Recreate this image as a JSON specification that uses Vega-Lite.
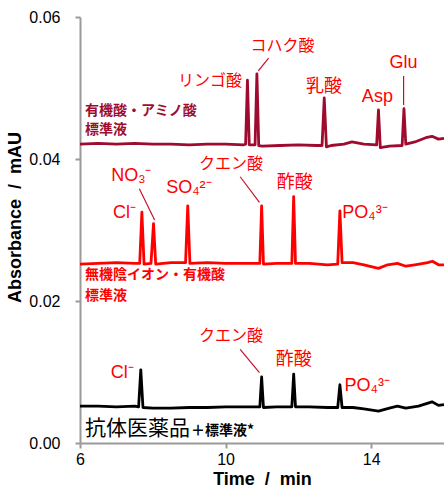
{
  "$schema": "https://vega.github.io/schema/vega-lite/v6.json",
  "width": 364,
  "height": 426,
  "autosize": {"type": "none"},
  "padding": {"left": 80, "top": 17, "right": 0, "bottom": 45},
  "background": "white",
  "config": {
    "view": {"stroke": null},
    "axis": {"grid": false, "labelFlush": false, "domainColor": "#9a9a9a", "tickColor": "#9a9a9a", "domainWidth": 2, "tickWidth": 2, "tickSize": 5, "labelFont": "Liberation Sans", "labelFontSize": 16, "labelColor": "#000", "titleFont": "Liberation Sans", "titleFontSize": 18, "titleFontWeight": "bold", "titleColor": "#000"}
  },
  "datasets": {
    "traces": [
      {"s": "std1", "t": 6.0, "a": 0.0421}, {"s": "std1", "t": 6.5, "a": 0.0422}, {"s": "std1", "t": 7.0, "a": 0.0421}, {"s": "std1", "t": 7.5, "a": 0.0422}, {"s": "std1", "t": 8.0, "a": 0.0421}, {"s": "std1", "t": 8.5, "a": 0.0421}, {"s": "std1", "t": 9.0, "a": 0.0420}, {"s": "std1", "t": 9.5, "a": 0.0421}, {"s": "std1", "t": 10.0, "a": 0.0421}, {"s": "std1", "t": 10.5, "a": 0.0420},
      {"s": "std1", "t": 10.55, "a": 0.0421}, {"s": "std1", "t": 10.6, "a": 0.0511}, {"s": "std1", "t": 10.65, "a": 0.0420}, {"s": "std1", "t": 10.75, "a": 0.0420},
      {"s": "std1", "t": 10.81, "a": 0.0420}, {"s": "std1", "t": 10.86, "a": 0.0520}, {"s": "std1", "t": 10.91, "a": 0.0419}, {"s": "std1", "t": 11.0, "a": 0.0418}, {"s": "std1", "t": 11.5, "a": 0.0419}, {"s": "std1", "t": 12.0, "a": 0.0420}, {"s": "std1", "t": 12.5, "a": 0.0419},
      {"s": "std1", "t": 12.65, "a": 0.0419}, {"s": "std1", "t": 12.71, "a": 0.0486}, {"s": "std1", "t": 12.77, "a": 0.0417}, {"s": "std1", "t": 12.9, "a": 0.0419}, {"s": "std1", "t": 13.25, "a": 0.0421}, {"s": "std1", "t": 13.47, "a": 0.0424}, {"s": "std1", "t": 13.8, "a": 0.0421},
      {"s": "std1", "t": 14.15, "a": 0.0420}, {"s": "std1", "t": 14.2, "a": 0.0469}, {"s": "std1", "t": 14.25, "a": 0.0416}, {"s": "std1", "t": 14.5, "a": 0.0418},
      {"s": "std1", "t": 14.85, "a": 0.0419}, {"s": "std1", "t": 14.9, "a": 0.0471}, {"s": "std1", "t": 14.95, "a": 0.0421}, {"s": "std1", "t": 15.2, "a": 0.0424}, {"s": "std1", "t": 15.5, "a": 0.0430}, {"s": "std1", "t": 15.67, "a": 0.0432}, {"s": "std1", "t": 15.85, "a": 0.0428}, {"s": "std1", "t": 16.0, "a": 0.0429},

      {"s": "std2", "t": 6.0, "a": 0.0252}, {"s": "std2", "t": 6.5, "a": 0.0253}, {"s": "std2", "t": 7.0, "a": 0.0254}, {"s": "std2", "t": 7.5, "a": 0.0253},
      {"s": "std2", "t": 7.64, "a": 0.0253}, {"s": "std2", "t": 7.70, "a": 0.0325}, {"s": "std2", "t": 7.76, "a": 0.0252},
      {"s": "std2", "t": 7.95, "a": 0.0253}, {"s": "std2", "t": 8.02, "a": 0.0309}, {"s": "std2", "t": 8.08, "a": 0.0252}, {"s": "std2", "t": 8.5, "a": 0.0254},
      {"s": "std2", "t": 8.9, "a": 0.0254}, {"s": "std2", "t": 8.96, "a": 0.0334}, {"s": "std2", "t": 9.02, "a": 0.0253}, {"s": "std2", "t": 9.5, "a": 0.0254}, {"s": "std2", "t": 10.0, "a": 0.0253}, {"s": "std2", "t": 10.5, "a": 0.0253},
      {"s": "std2", "t": 10.94, "a": 0.0253}, {"s": "std2", "t": 10.99, "a": 0.0334}, {"s": "std2", "t": 11.04, "a": 0.0252}, {"s": "std2", "t": 11.4, "a": 0.0253},
      {"s": "std2", "t": 11.82, "a": 0.0253}, {"s": "std2", "t": 11.87, "a": 0.0347}, {"s": "std2", "t": 11.92, "a": 0.0253}, {"s": "std2", "t": 12.3, "a": 0.0253}, {"s": "std2", "t": 12.8, "a": 0.0251},
      {"s": "std2", "t": 13.08, "a": 0.0252}, {"s": "std2", "t": 13.14, "a": 0.0327}, {"s": "std2", "t": 13.2, "a": 0.0254}, {"s": "std2", "t": 13.5, "a": 0.0254}, {"s": "std2", "t": 13.8, "a": 0.0251}, {"s": "std2", "t": 14.2, "a": 0.0246}, {"s": "std2", "t": 14.45, "a": 0.0251}, {"s": "std2", "t": 14.72, "a": 0.0253}, {"s": "std2", "t": 14.95, "a": 0.0249}, {"s": "std2", "t": 15.2, "a": 0.0251}, {"s": "std2", "t": 15.55, "a": 0.0254}, {"s": "std2", "t": 15.68, "a": 0.0256}, {"s": "std2", "t": 15.85, "a": 0.0251}, {"s": "std2", "t": 16.0, "a": 0.0251},

      {"s": "sample", "t": 6.0, "a": 0.0052}, {"s": "sample", "t": 6.5, "a": 0.0052}, {"s": "sample", "t": 7.0, "a": 0.0051}, {"s": "sample", "t": 7.5, "a": 0.0052},
      {"s": "sample", "t": 7.61, "a": 0.0051}, {"s": "sample", "t": 7.67, "a": 0.0103}, {"s": "sample", "t": 7.73, "a": 0.0050}, {"s": "sample", "t": 8.0, "a": 0.0049}, {"s": "sample", "t": 8.5, "a": 0.0049}, {"s": "sample", "t": 9.0, "a": 0.0050}, {"s": "sample", "t": 9.5, "a": 0.0050}, {"s": "sample", "t": 10.0, "a": 0.0051}, {"s": "sample", "t": 10.5, "a": 0.0051},
      {"s": "sample", "t": 10.94, "a": 0.0051}, {"s": "sample", "t": 10.99, "a": 0.0093}, {"s": "sample", "t": 11.04, "a": 0.0050}, {"s": "sample", "t": 11.4, "a": 0.0051},
      {"s": "sample", "t": 11.82, "a": 0.0051}, {"s": "sample", "t": 11.87, "a": 0.0097}, {"s": "sample", "t": 11.92, "a": 0.0051}, {"s": "sample", "t": 12.3, "a": 0.0051}, {"s": "sample", "t": 12.8, "a": 0.0050},
      {"s": "sample", "t": 13.08, "a": 0.0050}, {"s": "sample", "t": 13.14, "a": 0.0082}, {"s": "sample", "t": 13.2, "a": 0.0050}, {"s": "sample", "t": 13.5, "a": 0.0050}, {"s": "sample", "t": 13.8, "a": 0.0048}, {"s": "sample", "t": 14.2, "a": 0.0045}, {"s": "sample", "t": 14.5, "a": 0.0049}, {"s": "sample", "t": 14.72, "a": 0.0052}, {"s": "sample", "t": 14.95, "a": 0.0049}, {"s": "sample", "t": 15.3, "a": 0.0052}, {"s": "sample", "t": 15.67, "a": 0.0058}, {"s": "sample", "t": 15.85, "a": 0.0053}, {"s": "sample", "t": 16.0, "a": 0.0054}
    ],
    "leaders": [
      {"t": 10.90, "a": 0.0524, "t2": 11.18, "a2": 0.0542},
      {"t": 14.89, "a": 0.0517, "t2": 14.89, "a2": 0.0476},
      {"t": 7.63, "a": 0.0358, "t2": 8.05, "a2": 0.0314},
      {"t": 10.40, "a": 0.0375, "t2": 10.93, "a2": 0.0339},
      {"t": 10.40, "a": 0.0132, "t2": 10.93, "a2": 0.0099}
    ],
    "kana": [
      {"t": 9.57, "a": 0.0510, "label": "リンゴ酸"},
      {"t": 11.56, "a": 0.0559, "label": "コハク酸"},
      {"t": 10.15, "a": 0.0393, "label": "クエン酸"},
      {"t": 10.15, "a": 0.0151, "label": "クエン酸"}
    ],
    "kanji": [
      {"t": 12.70, "a": 0.0501, "label": "乳酸"},
      {"t": 11.90, "a": 0.0366, "label": "酢酸"},
      {"t": 11.87, "a": 0.0117, "label": "酢酸"}
    ],
    "latin": [
      {"t": 14.17, "a": 0.0487, "label": "Asp"},
      {"t": 14.89, "a": 0.0535, "label": "Glu"},
      {"t": 7.22, "a": 0.0324, "label": "Cl⁻"},
      {"t": 7.41, "a": 0.0376, "label": "NO₃⁻"},
      {"t": 8.99, "a": 0.0359, "label": "SO₄²⁻"},
      {"t": 13.83, "a": 0.0324, "label": "PO₄³⁻"},
      {"t": 7.16, "a": 0.0099, "label": "Cl⁻"},
      {"t": 13.89, "a": 0.0080, "label": "PO₄³⁻"}
    ],
    "groups": [
      {"s": "std1", "t": 6.14, "a": 0.0468, "label": "有機酸・アミノ酸"},
      {"s": "std1", "t": 6.14, "a": 0.0441, "label": "標準液"},
      {"s": "std2", "t": 6.14, "a": 0.0237, "label": "無機陰イオン・有機酸"},
      {"s": "std2", "t": 6.14, "a": 0.0207, "label": "標準液"},
      {"s": "sample", "t": 9.05, "a": 0.0017, "label": "＋標準液*"}
    ],
    "groupLarge": [
      {"s": "sample", "t": 6.14, "a": 0.0020, "label": "抗体医薬品"}
    ]
  },
  "encoding": {
    "x": {"field": "t", "type": "quantitative", "scale": {"domain": [6, 16], "nice": false, "zero": false},
      "axis": {"values": [6, 10, 14], "title": "Time\u00a0 / \u00a0min", "labelPadding": 3, "titlePadding": 3}},
    "y": {"field": "a", "type": "quantitative", "scale": {"domain": [0, 0.06], "nice": false},
      "axis": {"values": [0, 0.02, 0.04, 0.06], "format": ".2f", "title": "Absorbance\u00a0 / \u00a0mAU", "labelPadding": 15, "titleX": -56, "titleY": 200}}
  },
  "layer": [
    {
      "data": {"name": "traces"},
      "mark": {"type": "line", "strokeWidth": 2.8, "strokeJoin": "round"},
      "encoding": {
        "color": {"field": "s", "type": "nominal", "legend": null, "scale": {"domain": ["std1", "std2", "sample"], "range": ["#9e0b2f", "#ff0000", "#000000"]}}
      }
    },
    {
      "data": {"name": "leaders"},
      "mark": {"type": "rule", "color": "#c8102e", "strokeWidth": 1.2},
      "encoding": {"x2": {"field": "t2"}, "y2": {"field": "a2"}}
    },
    {
      "data": {"name": "kana"},
      "mark": {"type": "text", "font": "Noto Sans CJK JP", "fontSize": 16, "color": "#ff0000", "align": "center", "baseline": "middle"},
      "encoding": {"text": {"field": "label"}}
    },
    {
      "data": {"name": "kanji"},
      "mark": {"type": "text", "font": "Noto Sans CJK JP", "fontSize": 18, "color": "#ff0000", "align": "center", "baseline": "middle"},
      "encoding": {"text": {"field": "label"}}
    },
    {
      "data": {"name": "latin"},
      "mark": {"type": "text", "font": "Liberation Sans", "fontSize": 18, "color": "#ff0000", "align": "center", "baseline": "middle"},
      "encoding": {"text": {"field": "label"}}
    },
    {
      "data": {"name": "groups"},
      "mark": {"type": "text", "font": "Noto Sans CJK JP", "fontSize": 14, "fontWeight": "bold", "align": "left", "baseline": "middle"},
      "encoding": {"text": {"field": "label"}, "color": {"field": "s", "type": "nominal", "legend": null}}
    },
    {
      "data": {"name": "groupLarge"},
      "mark": {"type": "text", "font": "Noto Sans CJK JP", "fontSize": 21, "align": "left", "baseline": "middle"},
      "encoding": {"text": {"field": "label"}, "color": {"field": "s", "type": "nominal", "legend": null}}
    }
  ]
}
